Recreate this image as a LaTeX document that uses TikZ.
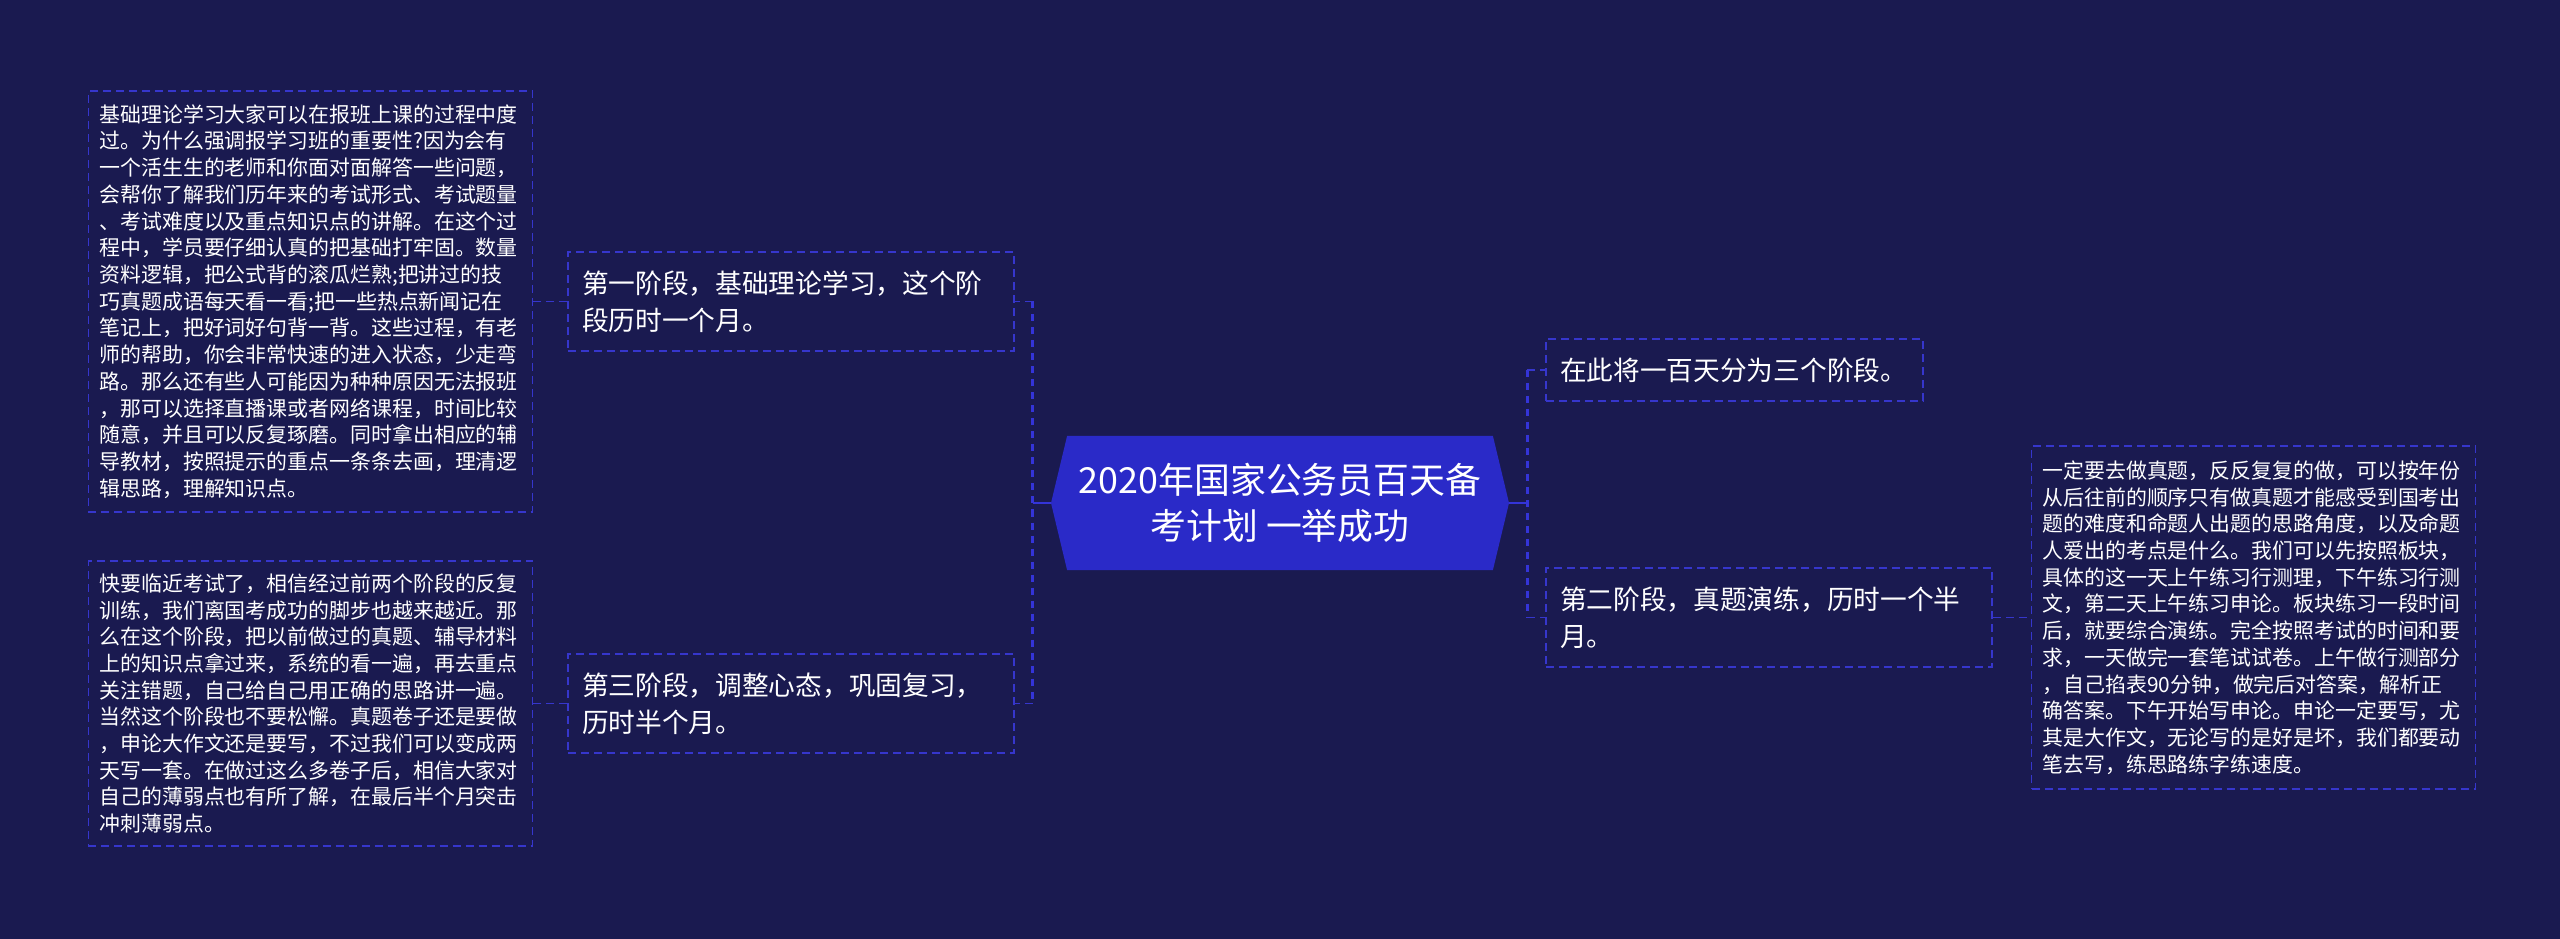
\documentclass[tikz,border=0pt]{standalone}
\usepackage{fontspec}
\setmainfont{Noto Sans CJK SC}
\usepackage{xcolor}
\usepackage{tikz}
\usetikzlibrary{positioning,shapes.symbols}
\definecolor{backdrop}{HTML}{1A1A50}
\definecolor{rootfill}{HTML}{2A2AC8}
\definecolor{bluewire}{HTML}{3434D8}
\definecolor{boxedge}{HTML}{3636CC}

\begin{document}
\begin{tikzpicture}[x=1mm, y=1mm, text=white,
  rootbox/.style={shape=signal, signal to=west and east, signal pointer angle=153,
    fill=rootfill, align=center, minimum width=91.6mm, minimum height=26.8mm, inner sep=0pt,
    font=\fontsize{20.4pt}{26.6pt}\selectfont},
  stagebox/.style={draw=boxedge, line width=0.3mm, dash pattern=on 1.6mm off 1mm,
    align=left, inner xsep=2.8mm, inner ysep=1.5mm, minimum height=19.8mm,
    font=\fontsize{15.2pt}{20.9pt}\selectfont},
  notebox/.style={draw=boxedge, line width=0.3mm, dash pattern=on 1.6mm off 1mm,
    align=left, text width=84.4mm, inner xsep=2.2mm, inner ysep=1.5mm,
    font=\fontsize{11.9pt}{15.2pt}\selectfont},
  rootlink/.style={draw=bluewire, line width=0.4mm},
  spine/.style={draw=bluewire, line width=0.6mm, dash pattern=on 1.4mm off 1.2mm},
  twig/.style={draw=boxedge, line width=0.3mm, dash pattern=on 1.6mm off 1mm}]
  \fill[backdrop] (0,0) rectangle (512,-187.8);

  \node[rootbox] (root) at (256,-100.6) {2020年国家公务员百天备\\考计划 一举成功};

  \node[stagebox, text width=83.6mm] (s1) at (158.2,-60.3) {第一阶段，基础理论学习，这个阶\\段历时一个月。};
  \node[stagebox, text width=83.6mm] (s3) at (158.2,-140.7) {第三阶段，调整心态，巩固复习，\\历时半个月。};
  \node[stagebox, text width=69.8mm, minimum height=12.4mm] (split) at (346.9,-74) {在此将一百天分为三个阶段。};
  \node[stagebox, text width=83.6mm] (s2) at (353.8,-123.5) {第二阶段，真题演练，历时一个半\\月。};

  \node[notebox, minimum height=84.2mm, left=6.8mm of s1] (n1) {基础理论学习大家可以在报班上课的过程中度\\
过。为什么强调报学习班的重要性?因为会有\\
一个活生生的老师和你面对面解答一些问题，\\
会帮你了解我们历年来的考试形式、考试题量\\
、考试难度以及重点知识点的讲解。在这个过\\
程中，学员要仔细认真的把基础打牢固。数量\\
资料逻辑，把公式背的滚瓜烂熟;把讲过的技\\
巧真题成语每天看一看;把一些热点新闻记在\\
笔记上，把好词好句背一背。这些过程，有老\\
师的帮助，你会非常快速的进入状态，少走弯\\
路。那么还有些人可能因为种种原因无法报班\\
，那可以选择直播课或者网络课程，时间比较\\
随意，并且可以反复琢磨。同时拿出相应的辅\\
导教材，按照提示的重点一条条去画，理清逻\\
辑思路，理解知识点。};
  \node[notebox, minimum height=57mm, left=6.8mm of s3] (n3) {快要临近考试了，相信经过前两个阶段的反复\\
训练，我们离国考成功的脚步也越来越近。那\\
么在这个阶段，把以前做过的真题、辅导材料\\
上的知识点拿过来，系统的看一遍，再去重点\\
关注错题，自己给自己用正确的思路讲一遍。\\
当然这个阶段也不要松懈。真题卷子还是要做\\
，申论大作文还是要写，不过我们可以变成两\\
天写一套。在做过这么多卷子后，相信大家对\\
自己的薄弱点也有所了解，在最后半个月突击\\
冲刺薄弱点。};
  \node[notebox, minimum height=68.6mm, right=7.6mm of s2] (n2) {一定要去做真题，反反复复的做，可以按年份\\
从后往前的顺序只有做真题才能感受到国考出\\
题的难度和命题人出题的思路角度，以及命题\\
人爱出的考点是什么。我们可以先按照板块，\\
具体的这一天上午练习行测理，下午练习行测\\
文，第二天上午练习申论。板块练习一段时间\\
后，就要综合演练。完全按照考试的时间和要\\
求，一天做完一套笔试试卷。上午做行测部分\\
，自己掐表90分钟，做完后对答案，解析正\\
确答案。下午开始写申论。申论一定要写，尤\\
其是大作文，无论写的是好是坏，我们都要动\\
笔去写，练思路练字练速度。};

  % left side
  \draw[rootlink] (root.west) -- ++(-3.6mm,0) coordinate (lj);
  \draw[spine] (lj |- s1.east) -- (lj |- s3.east);
  \draw[twig] (lj |- s1.east) -- (s1.east);
  \draw[twig] (lj |- s3.east) -- (s3.east);
  \draw[twig] (s1.west) -- (s1.west -| n1.east);
  \draw[twig] (s3.west) -- (s3.west -| n3.east);

  % right side
  \draw[rootlink] (root.east) -- ++(3.6mm,0) coordinate (rj);
  \draw[spine] (rj |- split.west) -- (rj |- s2.west);
  \draw[twig] (rj |- split.west) -- (split.west);
  \draw[twig] (rj |- s2.west) -- (s2.west);
  \draw[twig] (s2.east) -- (s2.east -| n2.west);
\end{tikzpicture}
\end{document}
